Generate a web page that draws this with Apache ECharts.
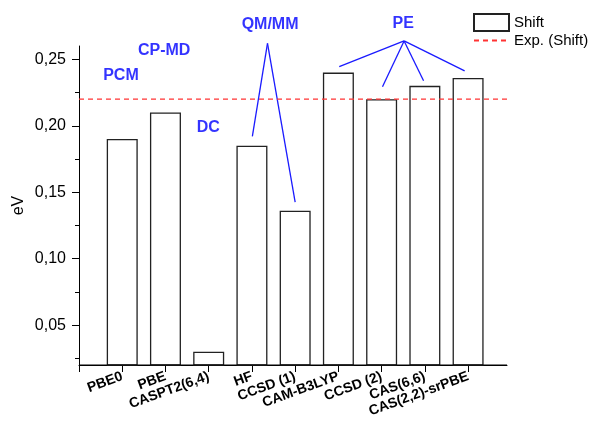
<!DOCTYPE html>
<html><head><meta charset="utf-8">
<script src="https://cdn.jsdelivr.net/npm/echarts@6/dist/echarts.min.js"></script>
<style>html,body{margin:0;padding:0;background:#fff}#c{width:591px;height:439px}</style>
</head><body><div id="c"></div>
<script>
const categories = ['PBE0','PBE','CASPT2(6,4)','HF','CCSD (1)','CAM-B3LYP','CCSD (2)','CAS(6,6)','CAS(2,2)-srPBE'];
const shiftValues = [0.19, 0.21, 0.03, 0.185, 0.136, 0.24, 0.22, 0.23, 0.236];
const expShift = 0.22;
const yMajorTicks = [0.05, 0.10, 0.15, 0.20, 0.25];
const yMinorTicks = [0.025, 0.075, 0.125, 0.175, 0.225];
// annotation texts and their anchor points in data coordinates
const annoTexts = [
  {name:'PCM',   x:0.97, y:0.2375},
  {name:'CP-MD', x:1.97, y:0.2568},
  {name:'DC',    x:2.99, y:0.1983},
  {name:'QM/MM', x:4.42, y:0.2763},
  {name:'PE',    x:7.50, y:0.2767}
];
// annotation leader lines (apex -> end) in data coordinates
const qmApex = [4.36, 0.262];
const qmEnds = [[4.01, 0.192], [5.0, 0.1425]];
const peApex = [7.52, 0.2638];
const peEnds = [[6.02, 0.2445], [7.02, 0.2293], [7.97, 0.2338], [8.92, 0.2413]];

const xMin = 0, xMax = 9.9;
const yMin = 0.02, yMax = 0.26;
const xTicks = [0].concat(categories.map((c,i) => i+1));
const font = 'Arial, "Liberation Sans", sans-serif';
const fmt = v => v.toFixed(2).replace('.', ',');

const lineData = [];
qmEnds.forEach(e => lineData.push({coords:[qmApex, e]}));
peEnds.forEach(e => lineData.push({coords:[peApex, e]}));

const chart = echarts.init(document.getElementById('c'), null, {renderer:'canvas'});
chart.setOption({
  animation:false,
  backgroundColor:'#fff',
  textStyle:{fontFamily:font},
  grid:{left:79, right:84, top:46, bottom:74, containLabel:false},
  legend:{
    orient:'vertical', left:473, top:13, padding:0, itemWidth:35, itemHeight:17, itemGap:1,
    textStyle:{fontSize:15, color:'#000', fontFamily:font},
    data:[{name:'Shift', icon:'rect'}, {name:'Exp. (Shift)', itemStyle:{opacity:0}}]
  },
  xAxis:{
    type:'value', position:'bottom', min:xMin, max:xMax, interval:1,
    axisLine:{show:true, onZero:false, lineStyle:{color:'#000', width:1, type:'solid', opacity:1}},
    axisTick:{show:true, inside:false, length:7, customValues:xTicks, lineStyle:{color:'#000'}},
    splitLine:{show:false},
    axisLabel:{
      rotate:20, fontSize:14, fontWeight:'bold', color:'#000', margin:11, fontFamily:font,
      formatter: v => (v >= 1 && v <= categories.length && Number.isInteger(v)) ? categories[v-1] : ''
    }
  },
  yAxis:[{
    type:'value', min:yMin, max:yMax, position:'left',
    name:'eV', nameLocation:'middle', nameGap:52, nameMoveOverlap:false,
    nameTextStyle:{fontSize:16, color:'#000', fontFamily:font},
    axisLine:{show:true, onZero:false, lineStyle:{color:'#000', width:1}},
    axisTick:{show:true, length:7, customValues:yMajorTicks, lineStyle:{color:'#000'}},
    axisLabel:{customValues:yMajorTicks, fontSize:16, color:'#000', margin:13, formatter:fmt, fontFamily:font},
    splitLine:{show:false}
  },{
    type:'value', min:yMin, max:yMax, position:'left', offset:0,
    axisLine:{show:false, onZero:false},
    axisTick:{show:true, length:4, customValues:yMinorTicks, lineStyle:{color:'#000'}},
    axisLabel:{show:false},
    splitLine:{show:false}
  }],
  series:[{
    name:'Shift', type:'bar', barWidth:31,
    data: shiftValues.map((v,i) => [i+1, v]),
    itemStyle:{color:'#fff', borderColor:'#222', borderWidth:1.3}
  },{
    name:'Exp. (Shift)', type:'line', symbol:'none',
    data:[[xMin, expShift],[xMax, expShift]],
    lineStyle:{color:'#ff3333', width:1.2, type:[5,4]},
    itemStyle:{color:'#ff3333'}
  },{
    name:'baseline', type:'line', symbol:'none', silent:true, z:5,
    data:[[xMin, yMin],[xMax, yMin]],
    lineStyle:{color:'#000', width:1, type:'solid'}
  },{
    name:'anno-lines', type:'lines', coordinateSystem:'cartesian2d', clip:false,
    lineStyle:{color:'#1a1aff', width:1.3, opacity:1},
    data: lineData, silent:true
  },{
    name:'anno-text', type:'scatter', symbolSize:0, clip:false, silent:true,
    data: annoTexts.map(a => ({name:a.name, value:[a.x, a.y]})),
    label:{show:true, position:'inside', formatter:p => p.name, color:'#0000ff', fontSize:16, fontWeight:'bold', fontFamily:font}
  }]
});
</script></body></html>
